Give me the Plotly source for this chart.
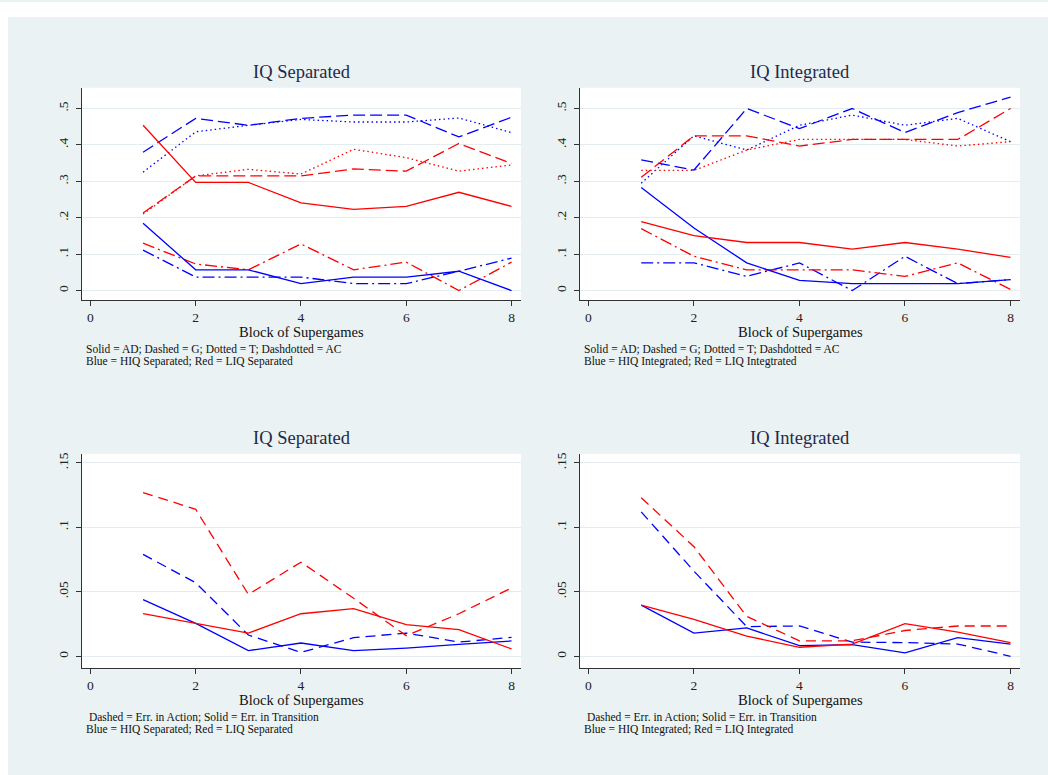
import plotly.graph_objects as go

blocks = [1, 2, 3, 4, 5, 6, 7, 8]

# Strategy shares by block, separated sessions
sep_hiq_ad = [0.185, 0.057, 0.057, 0.019, 0.037, 0.037, 0.053, 0.0]
sep_hiq_g = [0.380, 0.473, 0.454, 0.473, 0.482, 0.482, 0.422, 0.476]
sep_hiq_t = [0.325, 0.436, 0.454, 0.470, 0.463, 0.463, 0.474, 0.434]
sep_hiq_ac = [0.111, 0.037, 0.037, 0.037, 0.019, 0.019, 0.053, 0.089]
sep_liq_ad = [0.454, 0.297, 0.297, 0.241, 0.223, 0.231, 0.270, 0.231]
sep_liq_g = [0.213, 0.315, 0.315, 0.315, 0.334, 0.328, 0.404, 0.349]
sep_liq_t = [0.210, 0.315, 0.333, 0.320, 0.388, 0.365, 0.328, 0.345]
sep_liq_ac = [0.130, 0.073, 0.057, 0.128, 0.057, 0.078, 0.0, 0.078]

# Strategy shares by block, integrated sessions
int_hiq_ad = [0.283, 0.172, 0.076, 0.028, 0.019, 0.019, 0.019, 0.030]
int_hiq_g = [0.359, 0.331, 0.500, 0.445, 0.500, 0.434, 0.489, 0.531]
int_hiq_t = [0.295, 0.425, 0.386, 0.454, 0.482, 0.454, 0.473, 0.409]
int_hiq_ac = [0.076, 0.076, 0.039, 0.076, 0.0, 0.094, 0.019, 0.030]
int_liq_ad = [0.189, 0.151, 0.132, 0.132, 0.114, 0.132, 0.114, 0.091]
int_liq_g = [0.311, 0.425, 0.425, 0.397, 0.415, 0.415, 0.415, 0.500]
int_liq_t = [0.330, 0.330, 0.386, 0.415, 0.415, 0.415, 0.397, 0.409]
int_liq_ac = [0.170, 0.094, 0.057, 0.057, 0.057, 0.039, 0.076, 0.003]

# Error rates by block
sep_hiq_err_action = [0.079, 0.057, 0.0165, 0.003, 0.0144, 0.018, 0.011, 0.0147]
sep_hiq_err_trans = [0.044, 0.0255, 0.0044, 0.0103, 0.0044, 0.0064, 0.0093, 0.0119]
sep_liq_err_action = [0.127, 0.114, 0.048, 0.073, 0.045, 0.016, 0.033, 0.053]
sep_liq_err_trans = [0.033, 0.0255, 0.018, 0.033, 0.037, 0.0245, 0.0206, 0.0057]

int_hiq_err_action = [0.112, 0.066, 0.023, 0.0235, 0.011, 0.0106, 0.0095, 0.0]
int_hiq_err_trans = [0.0397, 0.018, 0.022, 0.0082, 0.009, 0.0026, 0.0144, 0.0095]
int_liq_err_action = [0.123, 0.085, 0.031, 0.012, 0.012, 0.020, 0.0235, 0.0235]
int_liq_err_trans = [0.0397, 0.0286, 0.0157, 0.007, 0.0095, 0.0253, 0.0188, 0.0106]

strat_ticks = [0, 0.1, 0.2, 0.3, 0.4, 0.5]
strat_labels = ["0", ".1", ".2", ".3", ".4", ".5"]
err_ticks = [0, 0.05, 0.1, 0.15]
err_labels = ["0", ".05", ".1", ".15"]
x_ticks = [0, 2, 4, 6, 8]

W, H = 1048, 775
BG = "#EAF2F3"
BLUE = "#0000FF"
RED = "#FF0000"
SERIF = "Liberation Serif, Times New Roman, serif"

DASH = "12px,5px"
DOT = "1.5px,3px"
DASHDOT = "12px,4px,2px,4px"
ERRDASH = "10px,6px"


def px_x(p):
    return p / W


def px_y(p):
    return 1 - p / H


fig = go.Figure()

# panel boxes in pixels: (left, right, top, bottom)
panels = {
    1: (82, 521, 86, 299),
    2: (580, 1020, 86, 299),
    3: (82, 521, 453, 668),
    4: (580, 1020, 453, 668),
}


def add_line(panel, y, color, dash):
    suffix = "" if panel == 1 else str(panel)
    fig.add_trace(go.Scatter(
        x=blocks, y=y, mode="lines",
        line=dict(color=color, width=1.3, dash=dash),
        xaxis="x" + suffix, yaxis="y" + suffix,
        showlegend=False, hoverinfo="skip",
    ))


for panel, series in [
    (1, [(sep_hiq_t, BLUE, DOT), (sep_liq_t, RED, DOT),
         (sep_hiq_g, BLUE, DASH), (sep_liq_g, RED, DASH),
         (sep_hiq_ac, BLUE, DASHDOT), (sep_liq_ac, RED, DASHDOT),
         (sep_hiq_ad, BLUE, "solid"), (sep_liq_ad, RED, "solid")]),
    (2, [(int_hiq_t, BLUE, DOT), (int_liq_t, RED, DOT),
         (int_hiq_g, BLUE, DASH), (int_liq_g, RED, DASH),
         (int_hiq_ac, BLUE, DASHDOT), (int_liq_ac, RED, DASHDOT),
         (int_hiq_ad, BLUE, "solid"), (int_liq_ad, RED, "solid")]),
    (3, [(sep_hiq_err_action, BLUE, ERRDASH), (sep_liq_err_action, RED, ERRDASH),
         (sep_hiq_err_trans, BLUE, "solid"), (sep_liq_err_trans, RED, "solid")]),
    (4, [(int_hiq_err_action, BLUE, ERRDASH), (int_liq_err_action, RED, ERRDASH),
         (int_hiq_err_trans, BLUE, "solid"), (int_liq_err_trans, RED, "solid")]),
]:
    for y, c, d in series:
        add_line(panel, y, c, d)

axis_common = dict(
    showline=True, linecolor="#333333", linewidth=1,
    ticks="outside", ticklen=5, tickcolor="#333333", tickwidth=1,
    tickfont=dict(family=SERIF, size=13.5, color="#222222"),
    zeroline=False, mirror=False,
)

layout_axes = {}
for panel, (l, r, t, b) in panels.items():
    suffix = "" if panel == 1 else str(panel)
    top_row = panel in (1, 2)
    layout_axes["xaxis" + suffix] = dict(
        domain=[px_x(l), px_x(r)],
        range=[-0.16, 8.18],
        anchor="y" + suffix,
        tickvals=x_ticks,
        showgrid=False,
        ticklabelstandoff=0,
        **axis_common,
    )
    layout_axes["yaxis" + suffix] = dict(
        domain=[px_y(b), px_y(t)],
        range=[-0.0266, 0.557] if top_row else [-0.0093, 0.157],
        anchor="x" + suffix,
        tickvals=strat_ticks if top_row else err_ticks,
        ticktext=strat_labels if top_row else err_labels,
        tickangle=-90,
        ticklabelstandoff=3,
        showgrid=True, gridcolor="#E4EDEF", gridwidth=1,
        **axis_common,
    )

annotations = []
titles = {1: "IQ Separated", 2: "IQ Integrated", 3: "IQ Separated", 4: "IQ Integrated"}
notes = {
    1: ["Solid = AD; Dashed = G; Dotted = T; Dashdotted = AC",
        "Blue = HIQ Separated; Red = LIQ Separated"],
    2: ["Solid = AD; Dashed = G; Dotted = T; Dashdotted = AC",
        "Blue = HIQ Integrated; Red = LIQ Integtrated"],
    3: [" Dashed = Err. in Action; Solid = Err. in Transition",
        "Blue = HIQ Separated; Red = LIQ Separated"],
    4: [" Dashed = Err. in Action; Solid = Err. in Transition",
        "Blue = HIQ Integrated; Red = LIQ Integrated"],
}
for panel, (l, r, t, b) in panels.items():
    cx = (l + r) / 2
    annotations.append(dict(
        text=titles[panel], x=px_x(cx), y=px_y(t - 16), xref="paper", yref="paper",
        xanchor="center", yanchor="middle", showarrow=False,
        font=dict(family=SERIF, size=18.5, color="#1E2A4A"),
    ))
    annotations.append(dict(
        text="Block of Supergames", x=px_x(cx), y=px_y(b + 32), xref="paper", yref="paper",
        xanchor="center", yanchor="middle", showarrow=False,
        font=dict(family=SERIF, size=14.5, color="#111111"),
    ))
    for i, line in enumerate(notes[panel]):
        annotations.append(dict(
            text=line, x=px_x(l + 2), y=px_y(b + 49 + 12 * i), xref="paper", yref="paper",
            xanchor="left", yanchor="middle", showarrow=False,
            font=dict(family=SERIF, size=11.5, color="#111111"),
        ))

shapes = [
    # white border along the top and left edges of the canvas
    dict(type="rect", xref="paper", yref="paper", x0=0, x1=1, y0=px_y(15), y1=1,
         fillcolor="white", line=dict(width=0), layer="below"),
    dict(type="rect", xref="paper", yref="paper", x0=0, x1=px_x(8), y0=0, y1=1,
         fillcolor="white", line=dict(width=0), layer="below"),
]

fig.update_layout(
    width=W, height=H,
    margin=dict(l=0, r=0, t=0, b=0),
    paper_bgcolor=BG, plot_bgcolor="white",
    annotations=annotations, shapes=shapes,
    showlegend=False,
    **layout_axes,
)

fig.write_html("out.html")
